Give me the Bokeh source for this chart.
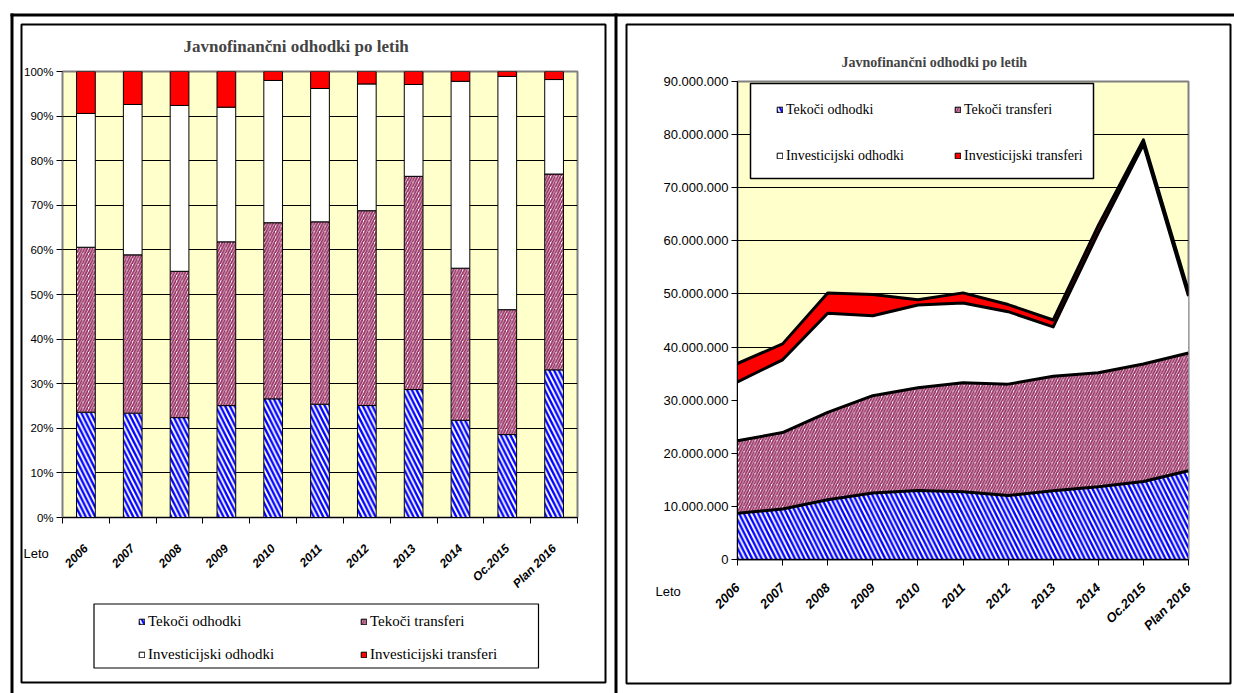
import numpy as np
from bokeh.plotting import figure
from bokeh.models import (FixedTicker, Legend, LegendItem, BoxAnnotation, Label,
                          Range1d, PrintfTickFormatter)
from bokeh.embed import file_html
from bokeh.resources import INLINE

# ---------------- data ----------------
years = ["2006", "2007", "2008", "2009", "2010", "2011", "2012", "2013", "2014",
         "Oc.2015", "Plan 2016"]
tekoci_odhodki = [8710000, 9500000, 11240000, 12520000, 13010000, 12750000,
                  12050000, 12940000, 13710000, 14690000, 16720000]
tekoci_transferi = [13650000, 14410000, 16470000, 18320000, 19310000, 20530000,
                    20970000, 21560000, 21450000, 22120000, 22170000]
investicijski_odhodki = [11070000, 13690000, 18670000, 15070000, 15600000, 15010000,
                         13640000, 9290000, 26360000, 41320000, 10700000]
investicijski_transferi = [3470000, 3000000, 3820000, 3990000, 980000, 1910000,
                           1340000, 1310000, 1380000, 870000, 910000]
series_names = ["Tekoči odhodki", "Tekoči transferi", "Investicijski odhodki",
                "Investicijski transferi"]
title_text = "Javnofinančni odhodki po letih"
axis_name = "Leto"
pct_ticks = list(range(0, 101, 10))
eur_ticks = list(range(0, 90_000_001, 10_000_000))

SERIES = [tekoci_odhodki, tekoci_transferi, investicijski_odhodki, investicijski_transferi]
STYLES = [
    dict(fill_color="white", hatch_pattern="\\", hatch_color="#0000FF",
         hatch_weight=2.3, hatch_scale=9.5),
    dict(fill_color="white", hatch_pattern="/", hatch_color="#993366",
         hatch_weight=1.9, hatch_scale=5.5),
    dict(fill_color="white"),
    dict(fill_color="#FF0000"),
]
n = len(years)
SANS = "Liberation Sans"
SERIF = "Liberation Serif"


def place(p, left, top):
    p.styles = {"position": "absolute", "left": f"{left}px", "top": f"{top}px"}


# ---------------- left: 100 % stacked bars ----------------
totals = [sum(v) for v in zip(*SERIES)]
shares = [[100.0 * v / t for v, t in zip(s, totals)] for s in SERIES]
xc = [i + 0.5 for i in range(n)]

pl = figure(width=617, height=693, x_range=Range1d(0, n), y_range=Range1d(0, 100),
            output_backend="svg", toolbar_location=None,
            min_border_left=62, min_border_right=40, min_border_top=71,
            min_border_bottom=176, background_fill_color="#FFFFCC",
            border_fill_color="white", outline_line_color="#808080",
            outline_line_width=2, title=title_text)
place(pl, 0, 0)

bottom = [0.0] * n
for s, st in zip(shares, STYLES):
    top = [b + v for b, v in zip(bottom, s)]
    pl.vbar(x=xc, bottom=bottom, top=top, width=0.4, line_color="black",
            line_width=1, **st)
    bottom = top

pl.title.text_font = SERIF
pl.title.text_font_style = "bold"
pl.title.text_font_size = "17px"
pl.title.align = "left"
pl.title.offset = 121
pl.title.standoff = 31

xa = pl.xaxis[0]
xa.ticker = FixedTicker(ticks=xc, minor_ticks=list(range(n + 1)))
xa.major_label_overrides = {x: y for x, y in zip(xc, years)}
xa.major_tick_out = 0
xa.major_tick_in = 0
xa.minor_tick_out = 6
xa.minor_tick_in = 0
xa.minor_tick_line_color = "black"
xa.axis_line_color = "black"
xa.major_label_orientation = np.pi / 4
xa.major_label_standoff = 23
xa.major_label_text_font = SANS
xa.major_label_text_font_style = "bold italic"
xa.major_label_text_font_size = "12px"
xa.major_label_text_color = "black"

ya = pl.yaxis[0]
ya.ticker = FixedTicker(ticks=pct_ticks)
ya.formatter = PrintfTickFormatter(format="%d%%")
ya.major_tick_out = 6
ya.major_tick_in = 0
ya.major_tick_line_color = "black"
ya.axis_line_color = "#808080"
ya.major_label_standoff = 3
ya.major_label_text_font = SANS
ya.major_label_text_font_size = "11.5px"
ya.major_label_text_color = "black"

pl.xgrid.visible = False
pl.ygrid.ticker = FixedTicker(ticks=pct_ticks)
pl.ygrid.grid_line_color = "black"
pl.ygrid.grid_line_width = 1

# ---------------- right: stacked areas ----------------
xs = list(range(n))
pr = figure(width=617, height=693, x_range=Range1d(0, n - 1),
            y_range=Range1d(0, 90_000_000), output_backend="svg",
            toolbar_location=None, min_border_left=120, min_border_right=46,
            min_border_top=81, min_border_bottom=134,
            background_fill_color="#FFFFCC", border_fill_color="white",
            outline_line_color="#808080", outline_line_width=2, title=title_text)
place(pr, 617, 0)

lower = [0] * n
tops = []
for s, st in zip(SERIES, STYLES):
    upper = [a + b for a, b in zip(lower, s)]
    pr.patch(x=xs + xs[::-1], y=upper + lower[::-1], line_alpha=0, **st)
    tops.append(upper)
    lower = upper
for upper in tops:
    pr.line(xs, upper, line_color="black", line_width=3, line_join="round")

pr.title.text_font = SERIF
pr.title.text_font_style = "bold"
pr.title.text_font_size = "14px"
pr.title.align = "left"
pr.title.offset = 104
pr.title.standoff = 24

xb = pr.xaxis[0]
xb.ticker = FixedTicker(ticks=xs)
xb.major_label_overrides = {i: y for i, y in zip(xs, years)}
xb.major_tick_out = 6
xb.major_tick_in = 0
xb.major_tick_line_color = "black"
xb.axis_line_color = "black"
xb.axis_line_width = 1.5
xb.major_label_orientation = np.pi / 4
xb.major_label_standoff = 20
xb.major_label_text_font = SANS
xb.major_label_text_font_style = "bold italic"
xb.major_label_text_font_size = "13px"
xb.major_label_text_color = "black"

yb = pr.yaxis[0]
yb.ticker = FixedTicker(ticks=eur_ticks)
yb.major_label_overrides = {v: f"{v:,}".replace(",", ".") for v in eur_ticks}
yb.major_tick_out = 6
yb.major_tick_in = 0
yb.major_tick_line_color = "black"
yb.axis_line_color = "black"
yb.major_label_standoff = 3
yb.major_label_text_font = SANS
yb.major_label_text_font_size = "13px"
yb.major_label_text_color = "black"

pr.xgrid.visible = False
pr.ygrid.ticker = FixedTicker(ticks=eur_ticks)
pr.ygrid.grid_line_color = "black"
pr.ygrid.grid_line_width = 1.2

# ---------------- overlay: frames, legends, axis name ----------------
W, H = 1234, 693
ov = figure(width=W, height=H, x_range=Range1d(0, W), y_range=Range1d(0, H),
            output_backend="svg", toolbar_location=None,
            x_axis_location=None, y_axis_location=None,
            min_border=0, min_border_left=0, min_border_right=0,
            min_border_top=0, min_border_bottom=0,
            background_fill_alpha=0, border_fill_alpha=0, outline_line_alpha=0)
ov.grid.visible = False
place(ov, 0, 0)

# legend keys: one hidden glyph each, lying outside the overlay's range
keys = [ov.vbar(x=[-100], bottom=[-100], top=[-90], width=1, line_color="black",
                line_width=1, **st) for st in STYLES]


def cbox(l, r, t, b, **kw):
    ov.add_layout(BoxAnnotation(left=l, right=r, top=t, bottom=b,
                                left_units="canvas", right_units="canvas",
                                top_units="canvas", bottom_units="canvas", **kw))


solid = dict(fill_color="black", fill_alpha=1, line_alpha=0)
frame = dict(fill_alpha=0, line_color="black", line_alpha=1)
cbox(10, W, 13, 16, **solid)            # table top line
cbox(10, 13, 13, H, **solid)            # table left line
cbox(614, 617, 13, H, **solid)          # table divider
cbox(21, 605, 24, 682, line_width=2, **frame)
cbox(626, 1230, 24, 683, line_width=2, **frame)
cbox(93.5, 538, 603.5, 667.5, line_width=1.2, **frame)
cbox(750, 1093, 83, 178, fill_color="white", fill_alpha=1, line_color="black",
     line_alpha=1, line_width=1.5)


def make_legend(idx, loc, size, spacing):
    lg = Legend(items=[LegendItem(label=series_names[i], renderers=[keys[i]]) for i in idx],
                location=loc)
    lg.border_line_alpha = 0
    lg.background_fill_alpha = 0
    lg.padding = 0
    lg.margin = 0
    lg.glyph_width = 7
    lg.glyph_height = 7
    lg.label_height = 20
    lg.label_standoff = 3
    lg.spacing = spacing
    lg.label_text_font = SERIF
    lg.label_text_font_size = size
    lg.label_text_color = "black"
    ov.add_layout(lg)


make_legend([0, 2], (138, H - 664.5), "15px", 13)
make_legend([1, 3], (360, H - 664.5), "15px", 13)
make_legend([0, 2], (776, H - 165.5), "14px", 26)
make_legend([1, 3], (954, H - 165.5), "14px", 26)

for lx, ly in ((23, 553), (655, 591)):
    ov.add_layout(Label(x=lx, y=ly, x_units="canvas", y_units="canvas", text=axis_name,
                        text_font=SANS, text_font_size="13px", text_baseline="middle",
                        text_color="black"))

open("out.html", "w").write(file_html([pl, pr, ov], INLINE))
